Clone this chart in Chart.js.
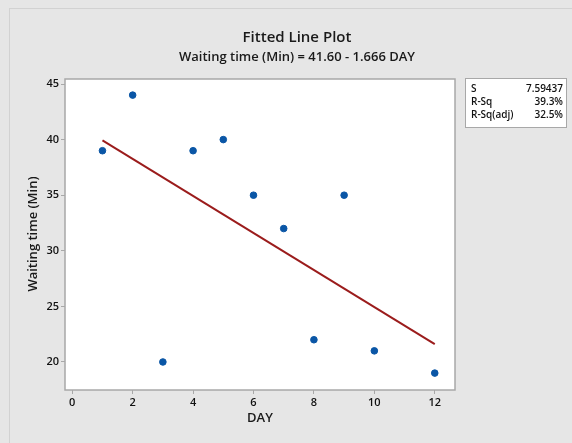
<!DOCTYPE html>
<html>
<head>
<meta charset="utf-8">
<script src="https://cdn.jsdelivr.net/npm/chart.js@4/dist/chart.umd.min.js"></script>
<style>
html,body{margin:0;padding:0;background:#e6e6e6;}
#wrap{width:572px;height:443px;position:relative;}
</style>
</head>
<body>
<div id="wrap"><canvas id="c" width="572" height="443"></canvas></div>
<script>
const days = [1, 2, 3, 4, 5, 6, 7, 8, 9, 10, 12];
const waitingTime = [39, 44, 20, 39, 40, 35, 32, 22, 35, 21, 19];
const fitDays = [1, 12];
const fitWaiting = [39.93, 21.61];
const xTickValues = [0, 2, 4, 6, 8, 10, 12];
const yTickValues = [20, 25, 30, 35, 40, 45];
const titleText = "Fitted Line Plot";
const subtitleText = "Waiting time (Min) = 41.60 - 1.666 DAY";
const xAxisTitle = "DAY";
const yAxisTitle = "Waiting time (Min)";
const statLabels = ["S", "R-Sq", "R-Sq(adj)"];
const statValues = ["7.59437", "39.3%", "32.5%"];

const FONT = "'Open Sans', 'Noto Sans', sans-serif";

const decor = {
  id: 'decor',
  beforeDraw(chart) {
    const ctx = chart.ctx;
    ctx.save();
    ctx.fillStyle = '#e6e6e6';
    ctx.fillRect(0, 0, chart.width, chart.height);
    ctx.strokeStyle = '#d2d2d2';
    ctx.lineWidth = 1;
    ctx.strokeRect(9.5, 8.5, chart.width, chart.height);
    const a = chart.chartArea;
    ctx.fillStyle = '#ffffff';
    ctx.fillRect(a.left, a.top, a.right - a.left, a.bottom - a.top);
    ctx.restore();
  },
  afterDraw(chart) {
    const ctx = chart.ctx;
    const a = chart.chartArea;
    ctx.save();
    ctx.strokeStyle = '#a8a8a8';
    ctx.lineWidth = 1.5;
    ctx.strokeRect(a.left, a.top, a.right - a.left, a.bottom - a.top);
    // titles
    ctx.fillStyle = '#1a1a1a';
    ctx.textAlign = 'center';
    ctx.textBaseline = 'middle';
    ctx.font = "600 15px " + FONT;
    ctx.fillText(titleText, 297, 38);
    ctx.font = "600 13px " + FONT;
    ctx.fillText(subtitleText, 297, 57);
    // axis titles
    ctx.font = "600 13px " + FONT;
    ctx.fillText(xAxisTitle, 260, 418);
    ctx.save();
    ctx.translate(33, 234);
    ctx.rotate(-Math.PI / 2);
    ctx.fillText(yAxisTitle, 0, 0);
    ctx.restore();
    // stats box
    ctx.fillStyle = '#ffffff';
    ctx.fillRect(465.5, 78.5, 101, 49);
    ctx.strokeStyle = '#a8a8a8';
    ctx.lineWidth = 1;
    ctx.strokeRect(465.5, 78.5, 101, 49);
    ctx.fillStyle = '#111111';
    ctx.font = "600 10px " + FONT;
    for (let i = 0; i < statLabels.length; i++) {
      const y = 89 + i * 13;
      ctx.textAlign = 'left';
      ctx.fillText(statLabels[i], 471, y);
      ctx.textAlign = 'right';
      ctx.fillText(statValues[i], 563, y);
    }
    ctx.restore();
  }
};

new Chart(document.getElementById('c'), {
  type: 'scatter',
  data: {
    datasets: [
      {
        type: 'line',
        data: fitDays.map((d, i) => ({x: d, y: fitWaiting[i]})),
        borderColor: '#9b1c1c',
        borderWidth: 2,
        pointRadius: 0,
        fill: false,
        order: 2
      },
      {
        data: days.map((d, i) => ({x: d, y: waitingTime[i]})),
        backgroundColor: '#0a56a6',
        borderColor: '#0a56a6',
        pointRadius: 3.3,
        pointStyle: 'circle',
        order: 1
      }
    ]
  },
  options: {
    responsive: false,
    animation: false,
    layout: {padding: {left: 0, top: 79, right: 117, bottom: 0}},
    plugins: {legend: {display: false}, title: {display: false}, tooltip: {enabled: false}},
    scales: {
      x: {
        type: 'linear',
        min: -0.24,
        max: 12.67,
        afterBuildTicks: (s) => { s.ticks = xTickValues.map(v => ({value: v})); },
        afterFit: (s) => { s.height = 53; },
        grid: {drawOnChartArea: false, drawTicks: true, tickLength: 4, color: '#a8a8a8'},
        border: {display: false},
        ticks: {color: '#111111', font: {family: FONT, size: 11, weight: '600'}, padding: 2, maxRotation: 0}
      },
      y: {
        type: 'linear',
        min: 17.48,
        max: 45.45,
        afterBuildTicks: (s) => { s.ticks = yTickValues.map(v => ({value: v})); },
        afterFit: (s) => { s.width = 65; },
        grid: {drawOnChartArea: false, drawTicks: true, tickLength: 4, color: '#a8a8a8'},
        border: {display: false},
        ticks: {color: '#111111', font: {family: FONT, size: 11, weight: '600'}, padding: 2}
      }
    }
  },
  plugins: [decor]
});
</script>
</body>
</html>
